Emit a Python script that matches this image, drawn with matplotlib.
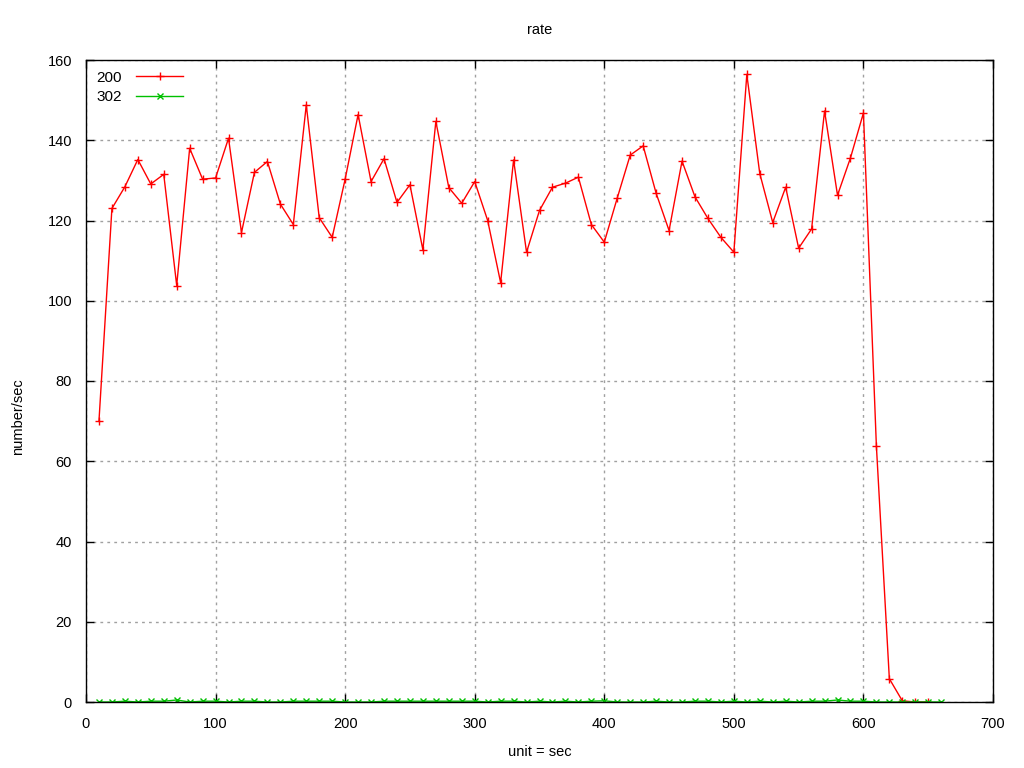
import matplotlib
matplotlib.use("Agg")
import matplotlib.pyplot as plt

# seconds (x) and rates for each status code
secs = list(range(10, 670, 10))

rate_200 = [70, 123, 128.4, 135.2, 129.1, 131.5, 103.8, 138, 130.3, 130.6,
            140.5, 117, 132, 134.7, 124.1, 119, 148.8, 120.7, 115.8, 130.3,
            146.4, 129.7, 135.4, 124.5, 128.9, 112.7, 144.7, 128.2, 124.3, 129.7,
            120, 104.5, 135.1, 112.1, 122.5, 128.3, 129.3, 130.8, 119, 114.6,
            125.6, 136.3, 138.6, 126.8, 117.5, 134.8, 125.9, 120.5, 115.8, 112.1,
            156.4, 131.7, 119.5, 128.3, 113.1, 117.9, 147.3, 126.3, 135.6, 146.8,
            63.8, 5.8, 0.3, 0, 0]
secs_200 = secs[:len(rate_200)]

rate_302 = [0, 0, 0.2, 0, 0.2, 0.2, 0.5, 0, 0.2, 0.2,
            0, 0.2, 0.2, 0, 0, 0.2, 0.2, 0.2, 0.2, 0,
            0, 0, 0.2, 0.2, 0.2, 0.2, 0.2, 0.2, 0.2, 0.2,
            0, 0.2, 0.2, 0, 0.2, 0, 0.2, 0, 0.2, 0.3,
            0, 0, 0, 0.2, 0, 0, 0.2, 0.2, 0, 0.2,
            0, 0.2, 0, 0.2, 0, 0.2, 0.2, 0.5, 0.2, 0.2,
            0, 0, 0, 0, 0, 0]

xticks = [0, 100, 200, 300, 400, 500, 600, 700]
yticks = [0, 20, 40, 60, 80, 100, 120, 140, 160]

plt.rcParams['font.family'] = ['Liberation Sans', 'DejaVu Sans']
plt.rcParams['font.size'] = 10.5

fig = plt.figure(figsize=(10.24, 7.68), dpi=100)
ax = fig.add_axes([86 / 1024, 1 - 702 / 768, (993 - 86) / 1024, (702 - 60) / 768])

ax.plot(secs_200, rate_200, color='#ff0000', lw=1, marker='+', ms=6, mew=1, label='200')
ax.plot(secs, rate_302, color='#00c000', lw=1, marker='x', ms=5, mew=1, label='302')

ax.set_xlim(0, 700)
ax.set_ylim(0, 160)
ax.set_xticks(xticks)
ax.set_yticks(yticks)
ax.tick_params(direction='in', length=6, width=1, top=True, right=True)
ax.tick_params(axis='x', pad=11)
ax.tick_params(axis='y', pad=10)
ax.grid(True, color='#a0a0a0', linestyle=(0, (2, 3)), linewidth=1)
ax.set_axisbelow(True)
for s in ax.spines.values():
    s.set_linewidth(1)

xc = (86 + 993) / 2 / 1024
fig.text(xc, 1 - 30 / 768, 'rate', ha='center', va='center')
fig.text(xc, 1 - 752 / 768, 'unit = sec', ha='center', va='center')
fig.text(18 / 1024, 1 - 417 / 768, 'number/sec', rotation=90, ha='center', va='center')

leg = ax.legend(loc='upper left', frameon=False, markerfirst=False, handlelength=3.1,
                handletextpad=0.9, borderaxespad=0.3, labelspacing=0.35, fontsize=11)

fig.savefig('out.png', dpi=100)
